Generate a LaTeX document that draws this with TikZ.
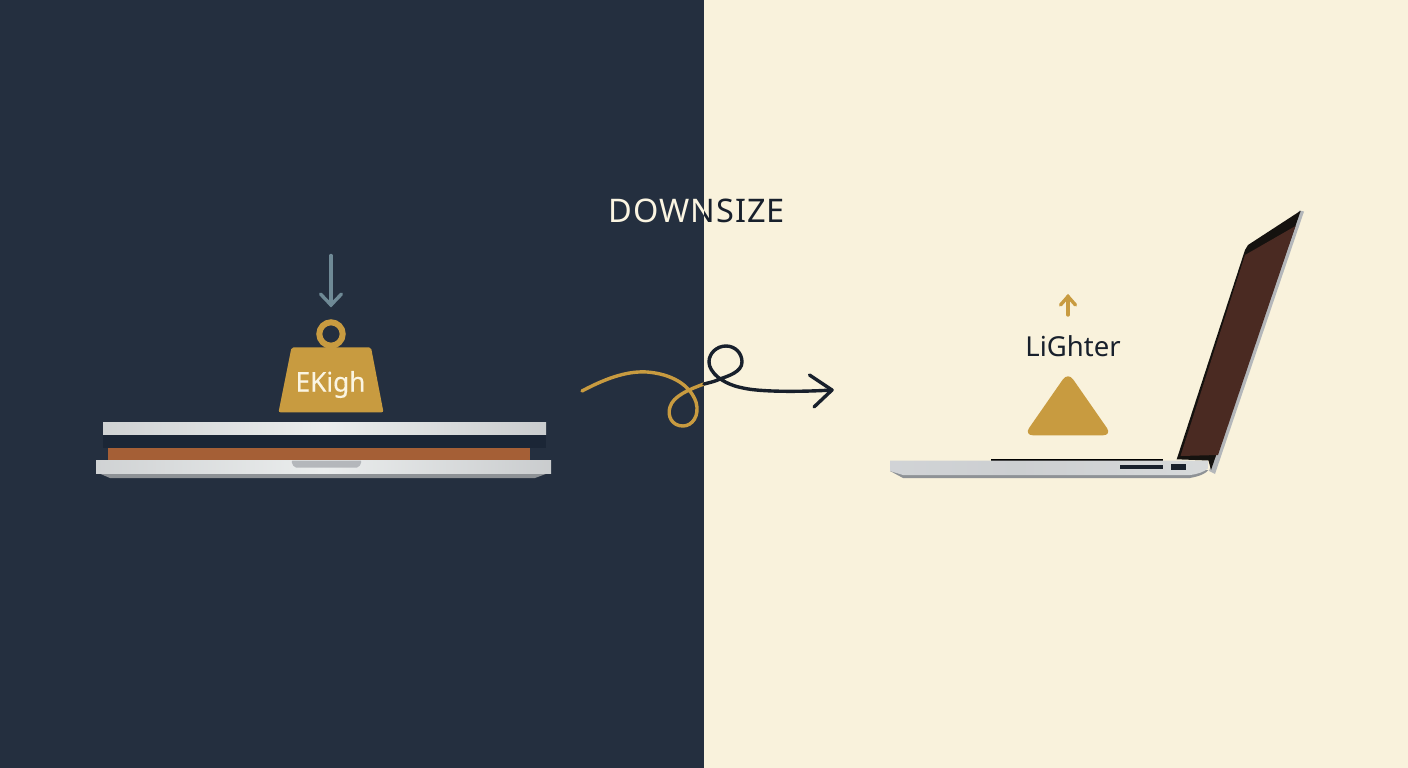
\documentclass[tikz,border=0pt]{standalone}
\usepackage{fontspec}
\setmainfont{Noto Sans}
\definecolor{navy}{HTML}{242F3F}
\definecolor{navydeep}{HTML}{1B2636}
\definecolor{cream}{HTML}{F9F2DC}
\definecolor{gold}{HTML}{C89B40}
\definecolor{slate}{HTML}{6F8A96}
\definecolor{copper}{HTML}{A55F36}
\definecolor{screenbrown}{HTML}{4A2A22}
\definecolor{bezel}{HTML}{15120F}
\definecolor{ink}{HTML}{18202C}
\definecolor{paletext}{HTML}{FBF5E2}
\definecolor{silverlow}{HTML}{8E9296}
\definecolor{lidedge}{HTML}{B4B7BA}
\definecolor{notch}{HTML}{B4B7BB}
\pgfdeclarehorizontalshading{metalbar}{100bp}{
  rgb(0bp)=(0.96,0.96,0.96);
  rgb(3bp)=(0.72,0.73,0.74);
  rgb(7bp)=(0.74,0.75,0.76);
  rgb(50bp)=(0.92,0.93,0.93);
  rgb(85bp)=(0.74,0.75,0.76);
  rgb(97bp)=(0.68,0.69,0.70);
  rgb(100bp)=(0.94,0.94,0.94)}
\pgfdeclarehorizontalshading{sidebase}{100bp}{
  rgb(0bp)=(0.66,0.67,0.68);
  rgb(3bp)=(0.84,0.85,0.86);
  rgb(45bp)=(0.80,0.81,0.82);
  rgb(85bp)=(0.86,0.87,0.87);
  rgb(92bp)=(0.78,0.79,0.80);
  rgb(100bp)=(0.84,0.85,0.85)}
\tikzset{
  metal/.style={shading=metalbar},
  underside/.style={fill=silverlow},
  goldfill/.style={fill=gold},
  swoop/.style={line width=3.4pt,line cap=round,line join=round},
  thinarrow/.style={line width=3.4pt,line cap=round,line join=miter},
  caption/.style={inner sep=0pt,font=\fontsize{27.5}{34}\selectfont},
  headline/.style={inner sep=0pt,font=\fontsize{32.5}{38}\selectfont\addfontfeature{LetterSpace=3}}
}
\begin{document}
\begin{tikzpicture}[x=1pt,y=-1pt]
\useasboundingbox (0,0) rectangle (1408,768);
% split background
\fill[navy] (0,0) rectangle (704,768);
\fill[cream] (704,0) rectangle (1408,768);

% title, changing colour at the seam
\begin{scope}
  \clip (0,0) rectangle (704,768);
  \node[headline,text=paletext] (titlelight) at (697,211) {DOWNSIZE};
\end{scope}
\begin{scope}
  \clip (704,0) rectangle (1408,768);
  \node[headline,text=ink] (titledark) at (697,211) {DOWNSIZE};
\end{scope}

% thick laptop, seen closed from the front
\fill[underside] (96,472) -- (110,478) -- (535,478) -- (551,472) -- cycle;
\fill[navydeep] (103,434) rectangle (546,448);
\fill[copper] (108,448) rectangle (530,461);
\shade[metal] (103,422.5) rectangle (546,434.5);
\shade[metal] (96,460.5) rectangle (551,473);
\fill[notch,rounded corners=2pt] (291,460.5) -- (294,467.5) -- (359,467.5) -- (362,460.5) -- cycle;

% weight with its ring
\draw[gold,line width=6pt] (331,334) circle (11.7);
\fill[goldfill,rounded corners=2pt] (291.5,347.3) -- (371,347.3) -- (383.5,412.3) -- (278.5,412.3) -- cycle;
\node[caption,text=paletext,font=\fontsize{27}{30}\selectfont\addfontfeature{FakeBold=0.25,FakeStretch=0.97}] (weightlabel) at (330.5,384.5) {EKigh};

% downward arrow above the weight
\coordinate (downtail) at (331,255.5);
\coordinate (downtip) at (331,305);
\draw[slate,thinarrow] (downtail) -- (downtip);
\draw[slate,thinarrow] (320.5,294) -- (downtip) -- (341.5,294);

% arrow crossing the seam
\coordinate (swoopstart) at (582,391);
\coordinate (seampoint) at (704,384);
\coordinate (swooptip) at (832,390);
\draw[gold,swoop] (swoopstart)
  .. controls (610,376) and (630,371) .. (647,372)
  .. controls (672,374) and (690,385) .. (696,402)
  .. controls (700,416) and (692,426) .. (683,426)
  .. controls (672,426) and (667,416) .. (670,407)
  .. controls (673,396) and (690,389) .. (seampoint);
\draw[ink,swoop] (seampoint)
  .. controls (712,382) and (716,381) .. (720,379)
  .. controls (728,376) and (742,372) .. (742,362)
  .. controls (742,353) and (735,346) .. (726,346)
  .. controls (717,346) and (709,353) .. (709,362)
  .. controls (709,372) and (722,384) .. (743,388)
  .. controls (760,392) and (800,392) .. (swooptip);
\draw[ink,swoop] (809.5,375) -- (swooptip) -- (814,407);

% thin laptop, open, seen from the side
\fill[black] (991,458.5) rectangle (1163,461);
\fill[silverlow] (890,471) -- (903,478) -- (1190,478)
  .. controls (1200,476) and (1205,474) .. (1208.5,470) -- cycle;
\shade[shading=sidebase] (890,460.7) -- (1208.5,460.7) -- (1208.5,468)
  .. controls (1204,472) and (1198,474) .. (1190,475) -- (903,475) -- (890,471) -- cycle;
\fill[ink] (1120,465) rectangle (1163,468.6);
\fill[ink] (1171,463.5) rectangle (1186,469.6);
% lid
\fill[lidedge] (1299,210.5) -- (1304,211.5) -- (1215,474) -- (1209,471) -- cycle;
\fill[bezel] (1176.7,459.3) -- (1245,250) -- (1248,245) -- (1300.7,210.7) -- (1211,470) -- (1208.5,460.5) -- cycle;
\fill[screenbrown] (1180.5,456) -- (1245,255) -- (1295.5,226) -- (1218,455) -- cycle;

% rounded triangle and caption
\fill[goldfill,rounded corners=9pt] (1068,372) -- (1112,435.3) -- (1024,435.3) -- cycle;
\node[caption,text=ink] (lighterlabel) at (1073,346) {LiGhter};

% upward arrow above the caption
\coordinate (uptail) at (1068,315);
\coordinate (uptip) at (1068,296.5);
\draw[gold,thinarrow] (uptail) -- (uptip);
\draw[gold,thinarrow] (1060.5,305) -- (uptip) -- (1075.5,305);
\end{tikzpicture}
\end{document}
